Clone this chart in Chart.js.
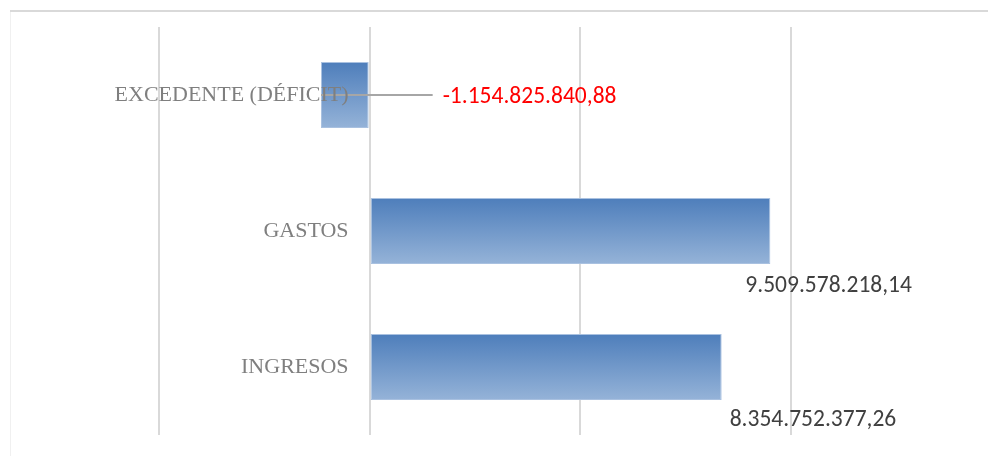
<!DOCTYPE html>
<html>
<head>
<meta charset="utf-8">
<script src="https://cdn.jsdelivr.net/npm/chart.js@4/dist/chart.umd.min.js"></script>
<style>
    html, body { margin: 0; padding: 0; background: #fff; }
    #wrap { width: 988px; height: 456px; position: relative; }
</style>
</head>
<body>
<div id="wrap"><canvas id="chart"></canvas></div>
<script>
const categories = [ 'EXCEDENTE (DÉFICIT)', 'GASTOS', 'INGRESOS' ];
const values = [ -1154825840.88, 9509578218.14, 8354752377.26 ];
const axisMin = -5000000000;
const axisMax = 10000000000;
const axisStep = 5000000000;

// where Excel left each data label, relative to the end of its bar
const labelPlacement = [
    { dx: 74, dy: 2, color: '#ff0000', leader: true },
    { dx: -25, dy: 55, color: '#404040' },
    { dx: 8, dy: 53, color: '#404040' }
];

const fmt = new Intl.NumberFormat( 'de-DE', { minimumFractionDigits: 2, maximumFractionDigits: 2 } );

const framePlugin = {
    id: 'frame',
    beforeDraw( chart ){
        const ctx = chart.ctx;
        ctx.save();
        ctx.strokeStyle = '#d9d9d9';
        ctx.lineWidth = 2;
        ctx.beginPath();
        ctx.moveTo( 10, 11 );
        ctx.lineTo( chart.width, 11 );
        ctx.stroke();
        ctx.strokeStyle = '#f0f0f0';
        ctx.lineWidth = 1;
        ctx.beginPath();
        ctx.moveTo( 10.5, 12 );
        ctx.lineTo( 10.5, chart.height );
        ctx.stroke();
        ctx.restore();
    }
};

const gradientPlugin = {
    id: 'barGradient',
    beforeDatasetsDraw( chart ){
        const ctx = chart.ctx;
        chart.getDatasetMeta( 0 ).data.forEach( el => {
            const top = el.y - el.height / 2;
            const g = ctx.createLinearGradient( 0, top, 0, top + el.height );
            g.addColorStop( 0, '#4e7ebb' );
            g.addColorStop( 1, '#95b3d8' );
            el.options.backgroundColor = g;
        } );
    }
};

const valueLabels = {
    id: 'valueLabels',
    afterDatasetsDraw( chart ){
        // leader line sits under the category label
        const ctx = chart.ctx;
        const meta = chart.getDatasetMeta( 0 );
        ctx.save();
        meta.data.forEach( ( el, i ) => {
            const p = labelPlacement[i];
            if ( !p.leader ) return;
            const end = values[i] < 0 ? el.base : el.x;
            ctx.strokeStyle = '#a6a6a6';
            ctx.lineWidth = 2;
            ctx.beginPath();
            ctx.moveTo( el.x, el.y );
            ctx.lineTo( end + p.dx - 10, el.y );
            ctx.stroke();
        } );
        ctx.restore();
    },
    afterDraw( chart ){
        const ctx = chart.ctx;
        const meta = chart.getDatasetMeta( 0 );
        ctx.save();
        ctx.font = '23.5px Carlito, "Liberation Sans", Arial, sans-serif';
        ctx.textBaseline = 'middle';
        ctx.textAlign = 'left';
        meta.data.forEach( ( el, i ) => {
            const p = labelPlacement[i];
            const end = values[i] < 0 ? el.base : el.x;
            ctx.fillStyle = p.color;
            ctx.fillText( fmt.format( values[i] ), end + p.dx, el.y + p.dy );
        } );
        ctx.restore();
    }
};

new Chart( document.getElementById( 'chart' ), {
    type: 'bar',
    data: {
        labels: categories,
        datasets: [{
            data: values,
            backgroundColor: () => '#4f81bd',
            borderColor: '#a9c1e0',
            borderWidth: 1,
            borderSkipped: false,
            barPercentage: 0.485,
            categoryPercentage: 1
        }]
    },
    options: {
        indexAxis: 'y',
        responsive: true,
        maintainAspectRatio: false,
        animation: false,
        layout: {
            padding: { left: 159, right: 197, top: 27, bottom: 21 }
        },
        scales: {
            x: {
                min: axisMin,
                max: axisMax,
                ticks: { display: false, stepSize: axisStep },
                grid: { color: '#d9d9d9', lineWidth: 2, drawTicks: false },
                border: { display: false }
            },
            y: {
                // labels hang just left of the zero line
                position: { x: -axisStep * 0.1 },
                grid: { display: false, drawTicks: false },
                border: { display: false },
                ticks: {
                    z: 1,
                    color: '#7f7f7f',
                    font: { family: '"Liberation Serif", serif', size: 22 }
                }
            }
        },
        plugins: {
            legend: { display: false },
            tooltip: { enabled: false }
        }
    },
    plugins: [ framePlugin, gradientPlugin, valueLabels ]
} );
</script>
</body>
</html>
